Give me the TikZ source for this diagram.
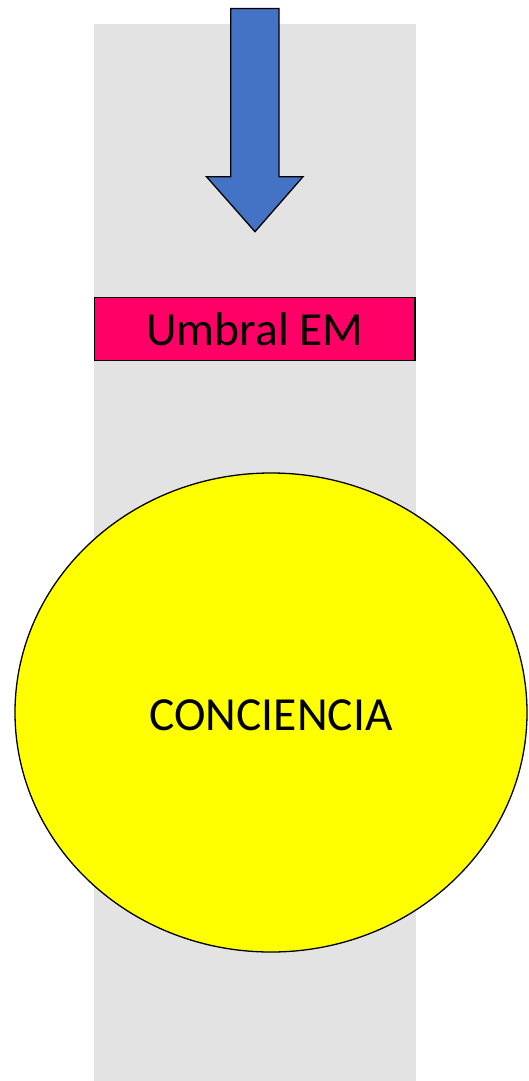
\documentclass[tikz,border=0pt]{standalone}
\usepackage{fontspec}
\setmainfont{Carlito}
\usepackage{tikz}
\usetikzlibrary{shapes.geometric}
\definecolor{bandgray}{HTML}{E3E3E3}
\definecolor{arrowblue}{HTML}{4472C4}
\definecolor{umbralpink}{HTML}{FF0066}
\definecolor{concyellow}{HTML}{FFFF00}

\begin{document}
\begin{tikzpicture}[x=1pt, y=-1pt, line width=1.3pt,
	bigtext/.style={font=\fontsize{47.5}{57}\selectfont},
	umbralbox/.style={draw=black, fill=umbralpink, rectangle, inner sep=0pt, minimum width=320.5pt, minimum height=63.4pt},
	concbody/.style={draw=black, fill=concyellow, ellipse, inner sep=0pt, minimum width=512pt, minimum height=479pt}]
			\useasboundingbox (0, 0) rectangle (529, 1081);
			\fill [bandgray] (94, 24) rectangle (416, 1081);
			\draw [fill=arrowblue, line join=miter] (230.7, 8.5) -- (279, 8.5) -- (279, 176.7) -- (303, 176.7)
				-- (255, 231.7) -- (206.5, 176.7) -- (230.7, 176.7) -- cycle;
			\node [umbralbox] (umbral) at (254.75, 329) {};
			\node [bigtext, anchor=base] (umbraltxt) at (255, 345) {Umbral EM};
			\node [concbody] (conciencia) at (271, 712.5) {};
			\node [bigtext, anchor=base] (conctxt) at (271, 730.5) {CONCIENCIA};
			\end{tikzpicture}
\end{document}
